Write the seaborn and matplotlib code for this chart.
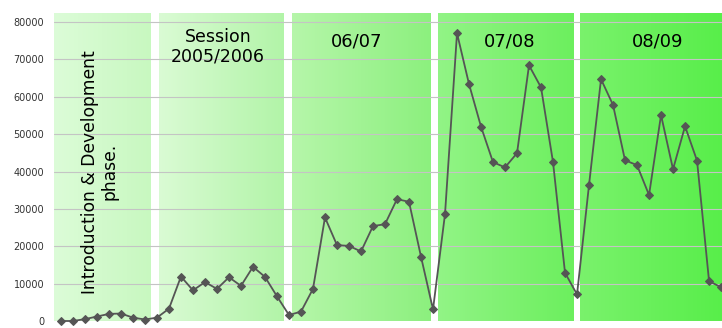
import numpy as np
import matplotlib.pyplot as plt
import seaborn as sns
import pandas as pd
from matplotlib.colors import LinearSegmentedColormap

sns.set_style("white")

# monthly values
visits = [0, 0, 500, 1200, 1900, 2000, 900, 400, 900, 3300,
          11900, 8200, 10400, 8600, 11700, 9400, 14500, 11800, 6600, 1600,
          2500, 8600, 27700, 20300, 20100, 18600, 25400, 25900, 32600, 31900,
          17200, 3100, 28600, 77000, 63400, 52000, 42500, 41100, 44900, 68400,
          62500, 42500, 12900, 7100, 36400, 64700, 57800, 43000, 41700, 33700,
          55100, 40600, 52100, 42900, 10700, 9000]
month = np.arange(len(visits))

sessions = ["Introduction & Development\nphase.", "Session\n2005/2006", "06/07", "07/08", "08/09"]
session_start = [-0.58, 8.17, 19.25, 31.42, 43.25]
session_end = [7.5, 18.58, 30.75, 42.67, 55.08]
shade_left = ['#dcfcd8', '#dafbd4', '#b6f6aa', '#92f486', '#7af26c']
shade_right = ['#c8f8c0', '#b2f4a8', '#8cf07e', '#6cef5e', '#58ee4a']

df = pd.DataFrame({'month': month, 'visits': visits})

fig = plt.figure(figsize=(7.22, 3.28), dpi=100)
ax = fig.add_axes([54/722, 7/328, 668/722, 308/328])
ymax = 80000 * 308 / 299

grad = np.linspace(0, 1, 256).reshape(1, -1)
for i in range(len(sessions)):
    cmap = LinearSegmentedColormap.from_list('s%d' % i, [shade_left[i], shade_right[i]])
    ax.imshow(grad, cmap=cmap, aspect='auto', zorder=0,
              extent=[session_start[i], session_end[i], 0, ymax])

sns.lineplot(data=df, x='month', y='visits', ax=ax, color='#555555',
             marker='D', markersize=4.5, markeredgecolor='#555555',
             linewidth=1.3, zorder=3, clip_on=False)

ax.set_xlim(-0.58, 55.08)
ax.set_ylim(0, ymax)
ax.set_yticks(np.arange(0, 80001, 10000))
ax.set_xticks([])
ax.set_xlabel('')
ax.set_ylabel('')
ax.set_axisbelow('line')
ax.yaxis.grid(True, color='#c4c4c4', linewidth=0.8)
ax.tick_params(axis='y', length=0, pad=7, labelsize=7, labelcolor='#333333')
for s in ax.spines.values():
    s.set_visible(False)

ax.text(3.25, 39900, sessions[0], rotation=90, ha='center', va='center',
        fontsize=12.3, linespacing=1.1, color='black')
ax.text(13.1, 73400, sessions[1], ha='center', va='center', fontsize=12.5,
        linespacing=1.05, color='black')
ax.text(24.6, 74650, sessions[2], ha='center', va='center', fontsize=13, color='black')
ax.text(37.4, 74650, sessions[3], ha='center', va='center', fontsize=13, color='black')
ax.text(49.75, 74650, sessions[4], ha='center', va='center', fontsize=13, color='black')

fig.savefig('out.png', dpi=100)
